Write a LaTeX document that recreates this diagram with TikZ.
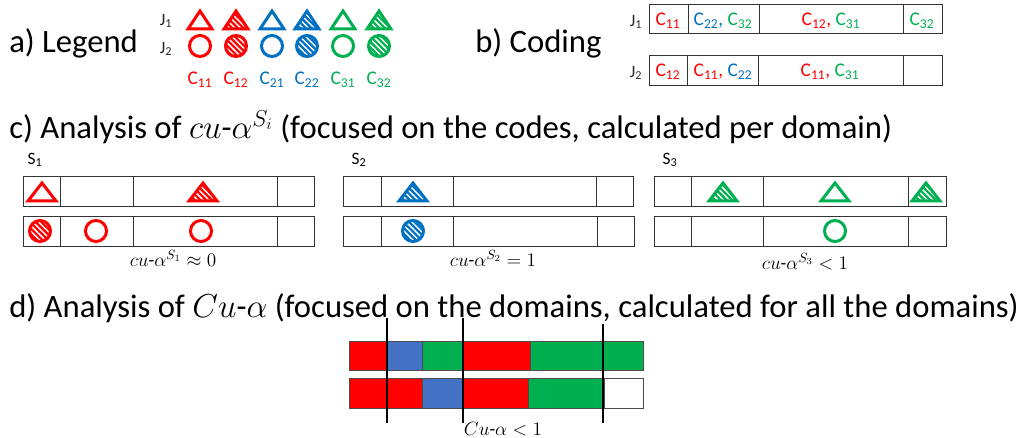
\documentclass[tikz,border=0pt]{standalone}
\usepackage{fontspec}
\setmainfont{Carlito}
\usetikzlibrary{patterns.meta}

\newlength{\du}
\setlength{\du}{0.75pt}

\definecolor{codered}{rgb}{1.000000, 0.000000, 0.000000}
\definecolor{codeblue}{rgb}{0.000000, 0.439216, 0.752941}
\definecolor{codegreen}{rgb}{0.000000, 0.690196, 0.313725}
\definecolor{barblue}{rgb}{0.266667, 0.447059, 0.768627}

\newcommand{\codelab}[2]{\textcolor{#1}{C\textsubscript{#2}}}

\begin{document}
\begin{tikzpicture}[
  heading/.style={anchor=west, inner sep=0pt, font=\fontsize{24.5}{29}\selectfont},
  jlabel/.style={inner sep=0pt, text=black!85, font=\fontsize{13}{15}\selectfont},
  clabel/.style={inner sep=0pt, font=\fontsize{14.5}{17}\selectfont},
  slabel/.style={inner sep=0pt, font=\fontsize{13}{15}\selectfont},
  mlabel/.style={inner sep=0pt, font=\fontsize{14}{16}\selectfont},
  openmark/.style={line width=3\du, line join=miter, draw=#1},
  fullmark/.style={line width=3\du, line join=miter, draw=#1,
    preaction={fill=#1},
    preaction={pattern={Lines[angle=-45,distance=3pt,line width=1.1pt]}, pattern color=white}},
  box/.style={draw=black!80, line width=1\du},
  seg/.style={draw=black!70, line width=1\du, fill=#1},
  cut/.style={line width=2.5\du}
]
\pgftransformxscale{1.000000}
\pgftransformyscale{-1.000000}
\useasboundingbox (0\du,0\du) rectangle (1026\du,438\du);

% a) legend
\node[heading] (legendhead) at (9\du,43\du) {a) Legend};
\node[jlabel] (j1legend) at (166\du,21\du) {J\textsubscript{1}};
\node[jlabel] (j2legend) at (166\du,49\du) {J\textsubscript{2}};
\draw[openmark=codered] (188\du,29\du)--(200\du,11\du)--(212\du,29\du)--cycle;
\draw[fullmark=codered] (224\du,29\du)--(236\du,11\du)--(248\du,29\du)--cycle;
\draw[openmark=codeblue] (260\du,29\du)--(272\du,11\du)--(284\du,29\du)--cycle;
\draw[fullmark=codeblue] (295\du,29\du)--(307\du,11\du)--(319\du,29\du)--cycle;
\draw[openmark=codegreen] (331\du,29\du)--(343\du,11\du)--(355\du,29\du)--cycle;
\draw[fullmark=codegreen] (367\du,29\du)--(379\du,11\du)--(391\du,29\du)--cycle;
\draw[openmark=codered] (200\du,46\du) circle (10.5\du);
\draw[fullmark=codered] (236\du,46\du) circle (10.5\du);
\draw[openmark=codeblue] (272\du,46\du) circle (10.5\du);
\draw[fullmark=codeblue] (307\du,46\du) circle (10.5\du);
\draw[openmark=codegreen] (343\du,46\du) circle (10.5\du);
\draw[fullmark=codegreen] (379\du,46\du) circle (10.5\du);
\node[clabel] (c11) at (200\du,80\du) {\codelab{codered}{11}};
\node[clabel] (c12) at (236\du,80\du) {\codelab{codered}{12}};
\node[clabel] (c21) at (272\du,80\du) {\codelab{codeblue}{21}};
\node[clabel] (c22) at (307\du,80\du) {\codelab{codeblue}{22}};
\node[clabel] (c31) at (343\du,80\du) {\codelab{codegreen}{31}};
\node[clabel] (c32) at (379\du,80\du) {\codelab{codegreen}{32}};

% b) coding
\node[heading] (codinghead) at (475\du,43\du) {b) Coding};
\node[jlabel] (j1coding) at (636\du,22\du) {J\textsubscript{1}};
\node[jlabel] (j2coding) at (636\du,73\du) {J\textsubscript{2}};
\draw[box] (649\du,5\du) rectangle (942\du,34\du);
\draw[box] (688\du,5\du)--(688\du,34\du);
\draw[box] (759\du,5\du)--(759\du,34\du);
\draw[box] (903\du,5\du)--(903\du,34\du);
\draw[box] (649\du,56\du) rectangle (942\du,86\du);
\draw[box] (687\du,56\du)--(687\du,86\du);
\draw[box] (758\du,56\du)--(758\du,86\du);
\draw[box] (903\du,56\du)--(903\du,86\du);
\node[clabel] (j1cell1) at (668\du,21\du) {\codelab{codered}{11}};
\node[clabel] (j1cell2) at (723\du,21\du) {\textcolor{codeblue}{C\textsubscript{22},} \codelab{codegreen}{32}};
\node[clabel] (j1cell3) at (831\du,21\du) {\textcolor{codered}{C\textsubscript{12},} \codelab{codegreen}{31}};
\node[clabel] (j1cell4) at (922\du,21\du) {\codelab{codegreen}{32}};
\node[clabel] (j2cell1) at (668\du,72\du) {\codelab{codered}{12}};
\node[clabel] (j2cell2) at (723\du,72\du) {\textcolor{codered}{C\textsubscript{11},} \codelab{codeblue}{22}};
\node[clabel] (j2cell3) at (830\du,72\du) {\textcolor{codered}{C\textsubscript{11},} \codelab{codegreen}{31}};

% c) analysis per domain
\node[heading] (headc) at (9\du,127\du) {c) Analysis of $cu$-$\alpha^{S_i}$ (focused on the codes, calculated per domain)};
\node[slabel] (s1) at (35\du,160\du) {S\textsubscript{1}};
\node[slabel] (s2) at (359\du,160\du) {S\textsubscript{2}};
\node[slabel] (s3) at (670\du,160\du) {S\textsubscript{3}};
% S1
\draw[box] (23\du,177\du) rectangle (314\du,207\du);
\draw[box] (23\du,217\du) rectangle (314\du,247\du);
\draw[box] (60\du,177\du)--(60\du,207\du) (133\du,177\du)--(133\du,207\du) (277\du,177\du)--(277\du,207\du);
\draw[box] (60\du,217\du)--(60\du,247\du) (133\du,217\du)--(133\du,247\du) (277\du,217\du)--(277\du,247\du);
\draw[openmark=codered] (28\du,201\du)--(42\du,183\du)--(56\du,201\du)--cycle;
\draw[fullmark=codered] (189\du,201\du)--(203\du,183\du)--(217\du,201\du)--cycle;
\draw[fullmark=codered] (40\du,231\du) circle (10.5\du);
\draw[openmark=codered] (96\du,231\du) circle (10.5\du);
\draw[openmark=codered] (201\du,231\du) circle (10.5\du);
\node[mlabel] (res1) at (173\du,258\du) {$cu$-$\alpha^{S_1}\approx 0$};
% S2
\draw[box] (343\du,177\du) rectangle (633\du,207\du);
\draw[box] (343\du,217\du) rectangle (634\du,247\du);
\draw[box] (381\du,177\du)--(381\du,207\du) (453\du,177\du)--(453\du,207\du) (596\du,177\du)--(596\du,207\du);
\draw[box] (381\du,217\du)--(381\du,247\du) (453\du,217\du)--(453\du,247\du) (597\du,217\du)--(597\du,247\du);
\draw[fullmark=codeblue] (399\du,201\du)--(413\du,183\du)--(427\du,201\du)--cycle;
\draw[fullmark=codeblue] (413\du,231\du) circle (10.5\du);
\node[mlabel] (res2) at (493\du,258\du) {$cu$-$\alpha^{S_2}=1$};
% S3
\draw[box] (654\du,177\du) rectangle (946\du,207\du);
\draw[box] (654\du,217\du) rectangle (946\du,247\du);
\draw[box] (691\du,177\du)--(691\du,207\du) (763\du,177\du)--(763\du,207\du) (908\du,177\du)--(908\du,207\du);
\draw[box] (691\du,217\du)--(691\du,247\du) (763\du,217\du)--(763\du,247\du) (908\du,217\du)--(908\du,247\du);
\draw[fullmark=codegreen] (709\du,201\du)--(723\du,183\du)--(737\du,201\du)--cycle;
\draw[openmark=codegreen] (821\du,201\du)--(835\du,183\du)--(849\du,201\du)--cycle;
\draw[fullmark=codegreen] (912\du,201\du)--(926\du,183\du)--(940\du,201\du)--cycle;
\draw[openmark=codegreen] (835\du,231\du) circle (10.5\du);
\node[mlabel] (res3) at (805\du,262\du) {$cu$-$\alpha^{S_3}<1$};

% d) analysis over all domains
\draw[seg=codered] (349\du,342\du) rectangle (387\du,371\du);
\draw[seg=barblue] (387\du,342\du) rectangle (422\du,371\du);
\draw[seg=codegreen] (422\du,342\du) rectangle (462\du,371\du);
\draw[seg=codered] (462\du,342\du) rectangle (530\du,371\du);
\draw[seg=codegreen] (530\du,342\du) rectangle (643\du,371\du);
\draw[seg=codered] (349\du,379\du) rectangle (387\du,409\du);
\draw[seg=codered] (387\du,379\du) rectangle (422\du,409\du);
\draw[seg=barblue] (422\du,379\du) rectangle (462\du,409\du);
\draw[seg=codered] (462\du,379\du) rectangle (528\du,409\du);
\draw[seg=codegreen] (528\du,379\du) rectangle (604\du,409\du);
\draw[seg=white] (604\du,379\du) rectangle (643\du,409\du);
\draw[cut] (387\du,318\du)--(387\du,423\du);
\draw[cut] (463\du,318\du)--(463\du,423\du);
\draw[cut] (603\du,324\du)--(603\du,423\du);
\node[heading] (headd) at (9\du,308\du) {d) Analysis of $Cu$-$\alpha$ (focused on the domains, calculated for all the domains)};
\node[mlabel] (resall) at (503\du,429\du) {$Cu$-$\alpha<1$};
\end{tikzpicture}
\end{document}
